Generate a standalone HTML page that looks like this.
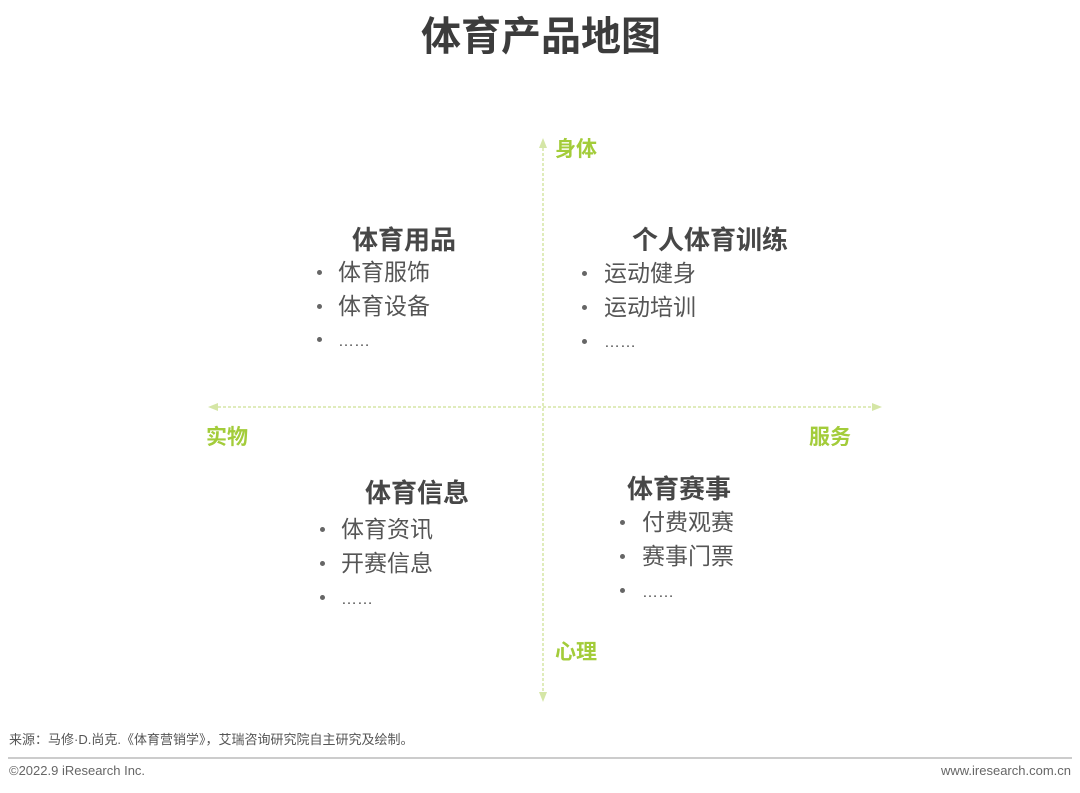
<!DOCTYPE html>
<html><head><meta charset="utf-8"><style>
body{margin:0;background:#fff;}
#c{position:relative;width:1080px;height:793px;overflow:hidden;font-family:"Liberation Sans","Noto Sans CJK SC",sans-serif;}
.t{position:absolute;white-space:nowrap;line-height:1;}
.h{font-weight:bold;font-size:26px;color:#474747;}
.i{font-size:23px;color:#555;}
.e{font-size:16px;color:#555;}
.b{position:absolute;width:5px;height:5px;border-radius:50%;background:#666;}
.g{font-weight:bold;font-size:21px;color:#a3cc3a;}
</style></head><body><div id="c">
<div class="t" style="left:421px;top:17px;font-size:40px;font-weight:bold;color:#3c3c3c;">体育产品地图</div>
<svg width="1080" height="793" style="position:absolute;left:0;top:0">
<line x1="543" y1="148" x2="543" y2="692" stroke="#d5e6a6" stroke-width="1.5" stroke-dasharray="3,2"/>
<polygon points="543,138 539,148 547,148" fill="#d5e6a6"/>
<polygon points="543,702 539,692 547,692" fill="#d5e6a6"/>
<line x1="218" y1="407" x2="872" y2="407" stroke="#d5e6a6" stroke-width="1.5" stroke-dasharray="3,2"/>
<polygon points="208,407 218,403 218,411" fill="#d5e6a6"/>
<polygon points="882,407 872,403 872,411" fill="#d5e6a6"/>
<line x1="8" y1="758" x2="1072" y2="758" stroke="#bbb" stroke-width="1.5"/>
</svg>
<div class="t g" style="left:555px;top:139px;">身体</div>
<div class="t g" style="left:206px;top:427px;">实物</div>
<div class="t g" style="left:809px;top:427px;">服务</div>
<div class="t g" style="left:555px;top:642px;">心理</div>

<div class="t h" style="left:352px;top:227px;">体育用品</div>
<div class="b" style="left:317px;top:270px"></div><div class="t i" style="left:338px;top:261px;">体育服饰</div>
<div class="b" style="left:317px;top:304px"></div><div class="t i" style="left:338px;top:295px;">体育设备</div>
<div class="b" style="left:317px;top:337px"></div><div class="t e" style="left:338px;top:334px;">……</div>

<div class="t h" style="left:632px;top:227px;">个人体育训练</div>
<div class="b" style="left:582px;top:271px"></div><div class="t i" style="left:604px;top:262px;">运动健身</div>
<div class="b" style="left:582px;top:305px"></div><div class="t i" style="left:604px;top:296px;">运动培训</div>
<div class="b" style="left:582px;top:339px"></div><div class="t e" style="left:604px;top:335px;">……</div>

<div class="t h" style="left:365px;top:480px;">体育信息</div>
<div class="b" style="left:320px;top:527px"></div><div class="t i" style="left:341px;top:518px;">体育资讯</div>
<div class="b" style="left:320px;top:561px"></div><div class="t i" style="left:341px;top:552px;">开赛信息</div>
<div class="b" style="left:320px;top:595px"></div><div class="t e" style="left:341px;top:592px;">……</div>

<div class="t h" style="left:627px;top:476px;">体育赛事</div>
<div class="b" style="left:620px;top:520px"></div><div class="t i" style="left:642px;top:511px;">付费观赛</div>
<div class="b" style="left:620px;top:554px"></div><div class="t i" style="left:642px;top:545px;">赛事门票</div>
<div class="b" style="left:620px;top:588px"></div><div class="t e" style="left:642px;top:585px;">……</div>

<div class="t" style="left:9px;top:733px;font-size:13px;color:#555;">来源：马修·D.尚克.《体育营销学》，艾瑞咨询研究院自主研究及绘制。</div>
<div class="t" style="left:9px;top:764px;font-size:13px;color:#666;">©2022.9 iResearch Inc.</div>
<div class="t" style="right:9px;top:764px;font-size:13px;color:#666;">www.iresearch.com.cn</div>
</div></body></html>
